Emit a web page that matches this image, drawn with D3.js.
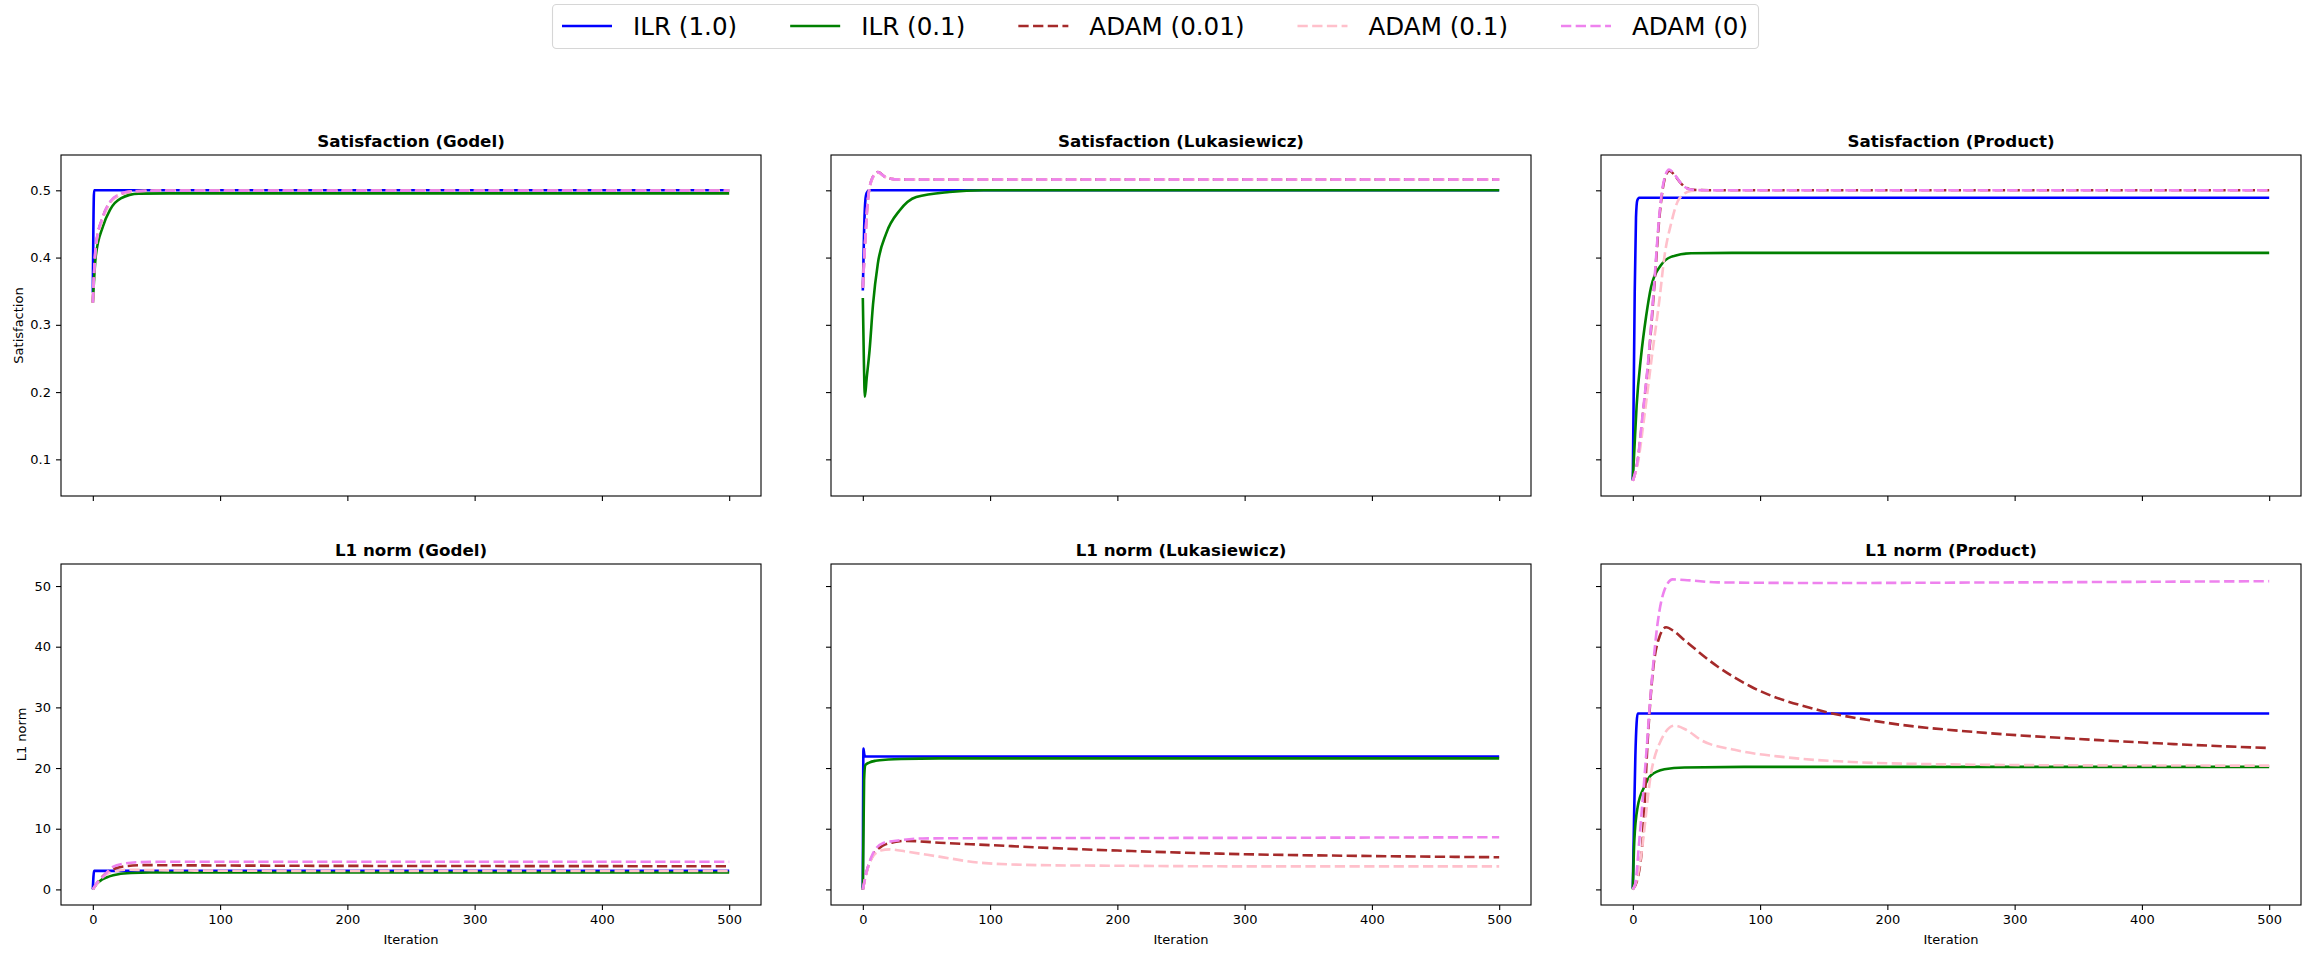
<!DOCTYPE html>
<html>
<head>
<meta charset="utf-8">
<script src="https://cdn.jsdelivr.net/npm/d3@7"></script>
<style>
  body { margin: 0; background: #fff; }
  svg { display: block; font-family: "DejaVu Sans", sans-serif; }
</style>
</head>
<body>
<svg id="chart" width="2311" height="958"></svg>
<script>
// ---- data: [iteration, value] ----
var seriesNames = ["ILR (1.0)", "ILR (0.1)", "ADAM (0.01)", "ADAM (0.1)", "ADAM (0)"]
var seriesColors = ["blue", "green", "brown", "pink", "violet"]
var seriesDashed = [false, false, true, true, true]

var satTicks = [0.1, 0.2, 0.3, 0.4, 0.5]
var l1Ticks = [0, 10, 20, 30, 40, 50]
var iterTicks = [0, 100, 200, 300, 400, 500]

// Satisfaction (Godel)
var sgIlr1 = [[0,0.348],[1,0.5],[500,0.5]]
var sgIlr01 = [[0,0.333],[2.3,0.402],[7.9,0.446],[13.5,0.471],[22,0.488],[36,0.495],[60,0.4955],[500,0.4955]]
var sgAdam001 = [[0,0.333],[2.3,0.416],[7.9,0.46],[13.5,0.482],[22,0.494],[30,0.498],[50,0.4995],[500,0.4995]]
var sgAdam01 = [[0,0.333],[2.3,0.414],[7.9,0.458],[13.5,0.481],[22,0.494],[30,0.498],[50,0.4995],[500,0.4995]]
var sgAdam0 = [[0,0.333],[2.3,0.417],[7.9,0.461],[13.5,0.483],[22,0.495],[30,0.4985],[50,0.4995],[500,0.4995]]

// Satisfaction (Lukasiewicz)
var slIlr1 = [[0,0.351],[1,0.44],[2,0.485],[3,0.496],[5,0.5],[500,0.5]]
var slIlr01 = [[0,0.34],[0.8,0.25],[1.6,0.193],[3,0.22],[5.3,0.262],[8,0.33],[11.8,0.391],[18.4,0.436],[28.9,0.47],[42,0.49],[68,0.4975],[95,0.5],[500,0.5]]
var slAdam001 = [[0,0.355],[2,0.43],[3.9,0.485],[7.9,0.52],[11.8,0.527],[18.4,0.519],[28.9,0.516],[500,0.516]]
var slAdam01 = [[0,0.355],[2,0.43],[3.9,0.484],[7.9,0.519],[11.8,0.526],[18.4,0.519],[28.9,0.516],[500,0.516]]
var slAdam0 = [[0,0.355],[2,0.43],[3.9,0.485],[7.9,0.52],[11.8,0.527],[18.4,0.519],[28.9,0.516],[500,0.516]]

// Satisfaction (Product)
var spIlr1 = [[0,0.069],[1.5,0.35],[2.5,0.46],[3.5,0.485],[5,0.489],[500,0.489]]
var spIlr01 = [[0,0.07],[1.2,0.114],[3,0.18],[6.4,0.252],[10.4,0.312],[14.3,0.356],[22.2,0.389],[30,0.401],[45.8,0.4065],[80,0.407],[500,0.407]]
var spAdam001 = [[0,0.068],[4,0.1],[7.7,0.163],[13,0.262],[17,0.361],[20.9,0.46],[24.8,0.515],[28.7,0.529],[33,0.522],[38,0.51],[45.8,0.501],[60,0.5],[500,0.5]]
var spAdam01 = [[0,0.068],[4,0.095],[9,0.163],[15.6,0.262],[20.9,0.337],[24.8,0.401],[30,0.45],[36.6,0.488],[45.8,0.499],[60,0.5],[500,0.5]]
var spAdam0 = [[0,0.068],[4,0.102],[7.5,0.163],[12.8,0.262],[16.8,0.361],[20.7,0.46],[24.5,0.515],[28.5,0.531],[33,0.523],[38,0.51],[45.8,0.501],[60,0.5],[500,0.5]]

// L1 norm (Godel)
var lgIlr1 = [[0,0],[1,3.05],[500,3.05]]
var lgIlr01 = [[0,0],[3,0.9],[7,1.6],[13,2.15],[20,2.5],[30,2.7],[45,2.78],[500,2.78]]
var lgAdam001 = [[0,0],[5,1.5],[10,2.6],[17,3.4],[27,3.85],[40,4.0],[60,3.98],[150,3.9],[300,3.85],[500,3.82]]
var lgAdam01 = [[0,0],[5,1.4],[10,2.4],[17,2.95],[27,3.25],[40,3.2],[80,3.1],[200,3.05],[500,3.05]]
var lgAdam0 = [[0,0],[4,1.3],[8,2.1],[15.7,3.7],[26,4.3],[37,4.5],[60,4.55],[500,4.55]]

// L1 norm (Lukasiewicz)
var llIlr1 = [[0,0],[0.5,23.2],[1.2,22.2],[2,21.9],[500,21.9]]
var llIlr01 = [[0,0],[1,18],[2,20.5],[5,20.9],[10,21.2],[20,21.4],[30,21.5],[60,21.6],[500,21.6]]
var llAdam001 = [[0,0],[2.6,2.6],[7.9,5.6],[15.7,7.2],[25,7.8],[34,8.0],[60,7.7],[100,7.3],[150,6.8],[200,6.4],[300,5.8],[400,5.5],[500,5.3]]
var llAdam01 = [[0,0],[3,2.8],[7.9,5.4],[14,6.4],[21,6.6],[35,6.2],[60,5.4],[92,4.4],[139,4.0],[200,3.9],[300,3.8],[500,3.8]]
var llAdam0 = [[0,0],[2.6,2.6],[7.9,5.9],[15.7,7.6],[29,8.1],[47,8.4],[100,8.45],[300,8.5],[500,8.6]]

// L1 norm (Product)
var lpIlr1 = [[0,0.2],[1,12],[2,22],[3,27.5],[3.8,29],[500,29]]
var lpIlr01 = [[0,0],[1.2,8.1],[3.8,13.6],[9,16.9],[14.3,18.8],[24.8,19.8],[40.5,20.1],[100,20.2],[500,20.2]]
var lpAdam001 = [[0,0],[4,2],[7.7,8.1],[11.7,24.6],[15.6,35.6],[20.9,41.6],[26.1,43.2],[32,42.6],[40.5,41.1],[66.8,36.7],[93,33.4],[145,29.6],[198,27.5],[277,25.8],[350,24.8],[420,24],[500,23.3]]
var lpAdam01 = [[0,0],[3,1.5],[6.4,5.4],[14.3,19.1],[22.2,24.6],[32.7,27],[42,26.3],[53.7,24.6],[80,23],[119,21.8],[172,21],[250,20.6],[350,20.45],[500,20.4]]
var lpAdam0 = [[0,0],[2,1],[5.1,8.1],[10.4,21.9],[14.3,32.9],[19.5,43.9],[24.8,49.3],[31.3,51.1],[40.5,51],[66.8,50.6],[150,50.5],[300,50.6],[500,50.8]]

var panels = [
  {title: "Satisfaction (Godel)", row: 0, col: 0, lines: [sgIlr1, sgIlr01, sgAdam001, sgAdam01, sgAdam0]},
  {title: "Satisfaction (Lukasiewicz)", row: 0, col: 1, lines: [slIlr1, slIlr01, slAdam001, slAdam01, slAdam0]},
  {title: "Satisfaction (Product)", row: 0, col: 2, lines: [spIlr1, spIlr01, spAdam001, spAdam01, spAdam0]},
  {title: "L1 norm (Godel)", row: 1, col: 0, lines: [lgIlr1, lgIlr01, lgAdam001, lgAdam01, lgAdam0]},
  {title: "L1 norm (Lukasiewicz)", row: 1, col: 1, lines: [llIlr1, llIlr01, llAdam001, llAdam01, llAdam0]},
  {title: "L1 norm (Product)", row: 1, col: 2, lines: [lpIlr1, lpIlr01, lpAdam001, lpAdam01, lpAdam0]}
]

// ---- layout ----
var svg = d3.select("#chart")
var colLeft = [61, 831, 1601]
var rowTop = [155, 564]
var pw = 700, ph = 341
var lw = 2.6
var dash = "10.3,4.4"

var rowDomains = [[0.0455, 0.5525], [-2.57, 53.63]]
var rowTicks = [satTicks, l1Ticks]
var rowLabels = ["Satisfaction", "L1 norm"]

var draw = function(p){
  var left = colLeft[p.col], top = rowTop[p.row]
  var x = d3.scaleLinear().domain([-25, 525]).range([left, left + pw])
  var y = d3.scaleLinear().domain(rowDomains[p.row]).range([top + ph, top])
  var g = svg.append("g")

  var line = d3.line()
    .x(function(d){ return x(d[0]) })
    .y(function(d){ return y(d[1]) })
    .curve(d3.curveMonotoneX)

  p.lines.forEach(function(data, i){
    g.append("path")
      .attr("d", line(data))
      .attr("fill", "none")
      .attr("stroke", seriesColors[i])
      .attr("stroke-width", lw)
      .attr("stroke-dasharray", seriesDashed[i] ? dash : null)
  })

  // axes
  var xAxis = d3.axisBottom(x).tickValues(iterTicks).tickSize(5).tickPadding(5)
  if(p.row == 0) xAxis.tickFormat(function(){ return "" })
  var gx = g.append("g").attr("transform", "translate(0," + (top + ph) + ")").call(xAxis)

  var yAxis = d3.axisLeft(y).tickValues(rowTicks[p.row]).tickSize(5).tickPadding(5)
  if(p.col != 0) yAxis.tickFormat(function(){ return "" })
  else if(p.row == 0) yAxis.tickFormat(d3.format(".1f"))
  var gy = g.append("g").attr("transform", "translate(" + left + ",0)").call(yAxis)

  ;[gx, gy].forEach(function(a){
    a.select(".domain").remove()
    a.selectAll("line").attr("stroke", "#000").attr("stroke-width", 1.1)
    a.selectAll("text").attr("fill", "#000")
      .style("font-size", "13px").style("font-family", "DejaVu Sans, sans-serif")
  })

  g.append("rect")
    .attr("x", left).attr("y", top).attr("width", pw).attr("height", ph)
    .attr("fill", "none").attr("stroke", "#000").attr("stroke-width", 1.1)

  g.append("text")
    .attr("x", left + pw / 2).attr("y", top - 8)
    .attr("text-anchor", "middle")
    .style("font-size", "16.7px").style("font-weight", "bold")
    .text(p.title)

  if(p.row == 1){
    g.append("text")
      .attr("x", left + pw / 2).attr("y", 944)
      .attr("text-anchor", "middle")
      .style("font-size", "13px")
      .text("Iteration")
  }
  if(p.col == 0){
    var lx = p.row == 0 ? 18 : 21
    g.append("text")
      .attr("transform", "translate(" + lx + "," + (top + ph / 2) + ") rotate(-90)")
      .attr("text-anchor", "middle")
      .attr("dy", "0.35em")
      .style("font-size", "13px")
      .text(rowLabels[p.row])
  }
}

panels.forEach(draw)

// ---- legend ----
var leg = svg.append("g")
var legBox = leg.append("rect")
var legItems = leg.append("g")
var cx = 10
seriesNames.forEach(function(name, i){
  legItems.append("line")
    .attr("x1", cx).attr("x2", cx + 50).attr("y1", 26).attr("y2", 26)
    .attr("stroke", seriesColors[i]).attr("stroke-width", lw)
    .attr("stroke-dasharray", seriesDashed[i] ? dash : null)
  var t = legItems.append("text")
    .attr("x", cx + 71).attr("y", 26).attr("dy", "0.35em")
    .style("font-size", "24.6px")
    .text(name)
  var w = t.node().getComputedTextLength()
  cx = cx + 71 + w + (i < seriesNames.length - 1 ? 53 : 10)
})
var legLeft = Math.round(2311 / 2 - cx / 2)
leg.attr("transform", "translate(" + legLeft + ",0)")
legBox.attr("x", 0.5).attr("y", 4.5).attr("width", cx).attr("height", 44)
  .attr("rx", 4).attr("ry", 4)
  .attr("fill", "#fff").attr("fill-opacity", 0.8)
  .attr("stroke", "#d6d6d6").attr("stroke-width", 1.1)
</script>
</body>
</html>
